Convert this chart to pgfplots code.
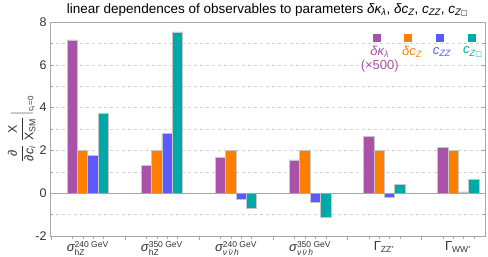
\documentclass[border=0pt]{standalone}
\usepackage{fontspec}
\setmainfont{Liberation Sans}
\newfontfamily\dv{DejaVu Sans}
\usepackage{amsmath}
\usepackage{pgfplots}
\pgfplotsset{compat=1.18}
\definecolor{cPur}{RGB}{168,82,168}
\definecolor{cOra}{RGB}{255,128,0}
\definecolor{cBlu}{RGB}{90,90,255}
\definecolor{cTea}{RGB}{0,168,168}
\pgfplotstableread{
x y
0 7.16
1 1.31
2 1.67
3 1.56
4 2.64
5 2.13
}\tPur
\pgfplotstableread{
x y
0 2.0
1 2.0
2 2.0
3 2.0
4 2.0
5 2.0
}\tOra
\pgfplotstableread{
x y
0 1.75
1 2.78
2 -0.27
3 -0.41
4 -0.17
5 0.06
}\tBlu
\pgfplotstableread{
x y
0 3.72
1 7.54
2 -0.69
3 -1.11
4 0.41
5 0.66
}\tTea
\begin{document}
\begin{tikzpicture}
\useasboundingbox (-50pt,-21pt) rectangle (438pt,236pt);
\begin{axis}[
  at={(0pt,0pt)}, anchor=south west,
  scale only axis, width=435pt, height=214pt,
  xmin=-0.51, xmax=5.36, ymin=-2, ymax=8,
  axis line style={gray!70},
  tick style={gray!70},
  tick align=inside,
  xtick pos=bottom,
  ytick pos=both, yticklabel pos=left,
  xtick={-0.5,0.5,1.5,2.5,3.5,4.5},
  xticklabels={},
  major tick length=4pt, minor tick length=3pt,
  minor xtick={-0.21,-0.07,0.07,0.21,0.79,0.93,1.07,1.21,1.79,1.93,2.07,2.21,2.79,2.93,3.07,3.21,3.79,3.93,4.07,4.21,4.79,4.93,5.07,5.21},
  extra x ticks={0,1,2,3,4,5},
  extra x tick labels={
    $\hbox{\itshape σ}^{\hbox{\fontsize{8.5}{9}\selectfont 240 GeV}}_{\hbox{\fontsize{8.5}{9}\selectfont hZ}}$,
    $\hbox{\itshape σ}^{\hbox{\fontsize{8.5}{9}\selectfont 350 GeV}}_{\hbox{\fontsize{8.5}{9}\selectfont hZ}}$,
    $\hbox{\itshape σ}^{\hbox{\fontsize{8.5}{9}\selectfont 240 GeV}}_{\hbox{\fontsize{8.5}{9}\selectfont\itshape ν\,$\bar{\hbox{ν}}$\,h}}$,
    $\hbox{\itshape σ}^{\hbox{\fontsize{8.5}{9}\selectfont 350 GeV}}_{\hbox{\fontsize{8.5}{9}\selectfont\itshape ν\,$\bar{\hbox{ν}}$\,h}}$,
    $\hbox{Γ}_{\hbox{\fontsize{8.5}{9}\selectfont ZZ$^{\hbox{\fontsize{6}{7}\selectfont *}}$}}$,
    $\hbox{Γ}_{\hbox{\fontsize{8.5}{9}\selectfont WW$^{\hbox{\fontsize{6}{7}\selectfont *}}$}}$},
  extra x tick style={tick style={draw=none}, xticklabel style={inner sep=0pt, yshift=-1pt, font=\fontsize{13}{14}\selectfont}},
  ytick={-2,0,2,4,6,8},
  minor ytick={-1,1,3,5,7},
  ymajorgrids, yminorgrids,
  major grid style={dashed, gray!35},
  minor grid style={dashed, gray!35},
  /pgf/number format/assume math mode=true,
  ticklabel style={font=\fontsize{12.5}{14}\selectfont, text=black!80},
  title={linear dependences of observables to parameters {\itshape δκ}\textsubscript{\itshape λ}, {\itshape δc}\textsubscript{\itshape Z}, {\itshape c}\textsubscript{\itshape ZZ}, {\itshape c}\textsubscript{\itshape Z{\dv\scriptsize □}}},
  title style={font=\fontsize{13.5}{15}\selectfont, yshift=-4pt},
  ylabel={$\dfrac{\hbox{\itshape ∂}}{\hbox{\itshape ∂c\textsubscript{i}}}\;\dfrac{\hbox{X}}{\hbox{X\textsubscript{SM}}}\,\Big|_{\hbox{\fontsize{8}{9}\selectfont c\textsubscript{i}=0}}$},
  ylabel style={font=\fontsize{12.5}{14}\selectfont, text=black!80, yshift=-7pt},
  ybar, bar width=0.14,
  every axis plot/.append style={draw=gray!45, line width=0.6pt},
  clip=false,
]
\addplot[fill=cPur, bar shift=-0.21] table {\tPur};
\addplot[fill=cOra, bar shift=-0.07] table {\tOra};
\addplot[fill=cBlu, bar shift=0.07] table {\tBlu};
\addplot[fill=cTea, bar shift=0.21] table {\tTea};
\draw[gray!70, line width=0.6pt] (rel axis cs:0,0.2) -- (rel axis cs:1,0.2);
\node[fill=cPur, minimum size=8pt, inner sep=0pt] at (rel axis cs:0.752,0.925) {};
\node[fill=cOra, minimum size=8pt, inner sep=0pt] at (rel axis cs:0.823,0.925) {};
\node[fill=cBlu, minimum size=8pt, inner sep=0pt] at (rel axis cs:0.897,0.925) {};
\node[fill=cTea, minimum size=8pt, inner sep=0pt] at (rel axis cs:0.970,0.925) {};
\node[text=cPur, font=\fontsize{13}{14}\selectfont] at (rel axis cs:0.758,0.86) {{\itshape δκ}\textsubscript{\itshape λ}};
\node[text=cOra, font=\fontsize{13}{14}\selectfont] at (rel axis cs:0.832,0.86) {{\itshape δc}\textsubscript{\itshape Z}};
\node[text=cBlu, font=\fontsize{13}{14}\selectfont] at (rel axis cs:0.901,0.86) {{\itshape c}\textsubscript{\itshape ZZ}};
\node[text=cTea, font=\fontsize{13}{14}\selectfont] at (rel axis cs:0.972,0.86) {{\itshape c}\textsubscript{\itshape Z{\dv\scriptsize □}}};
\node[text=cPur, font=\fontsize{13}{14}\selectfont] at (rel axis cs:0.758,0.795) {(×500)};
\end{axis}
\end{tikzpicture}
\end{document}
